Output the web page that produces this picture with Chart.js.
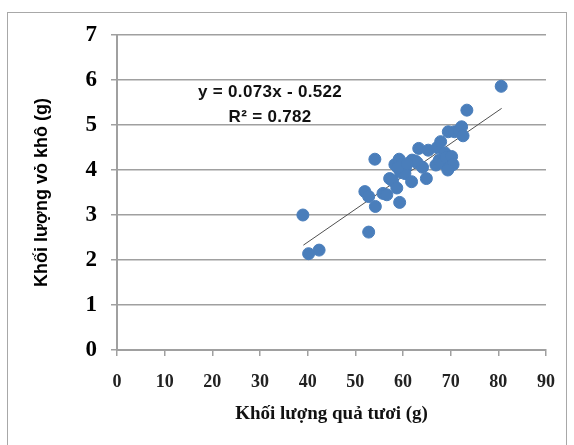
<!DOCTYPE html>
<html lang="vi">
<head>
  <meta charset="UTF-8" />
  <title>Khối lượng vỏ khô theo khối lượng quả tươi</title>
  <script src="https://cdn.jsdelivr.net/npm/chart.js"></script>
  <style>
    body {
      margin: 0;
      background: white;
    }
    .frame {
      position: absolute;
      left: 7px;
      top: 12px;
      width: 558px;
      height: 445px;
      border: 1px solid #a8a8a8;
    }
    #chart {
      position: absolute;
      left: 0;
      top: 0;
    }
  </style>
</head>
<body>
  <div class="frame"></div>
  <canvas id="chart" width="574" height="445"></canvas>

  <script>
    // fresh fruit mass (g) vs dry peel mass (g)
    const freshMass = [39.0, 40.2, 42.4, 52.8, 52.0, 52.8, 54.2, 54.1, 55.8, 56.6,
                       57.2, 57.8, 58.7, 59.3, 58.3, 59.2, 59.8, 59.5, 60.5, 60.4,
                       61.9, 61.8, 63.3, 63.0, 64.1, 64.9, 65.3, 67.2, 67.9, 66.9,
                       67.6, 68.3, 68.8, 69.1, 69.6, 70.2, 70.5, 69.4, 69.5, 70.8,
                       71.8, 72.3, 72.6, 73.4, 80.6, 62.6, 58.9, 60.9];
    const dryPeel   = [3.00, 2.14, 2.22, 2.62, 3.52, 3.41, 3.19, 4.24, 3.48, 3.45,
                       3.81, 3.76, 3.60, 3.28, 4.12, 4.24, 4.12, 3.95, 4.03, 3.92,
                       4.22, 3.74, 4.48, 4.16, 4.06, 3.81, 4.44, 4.50, 4.63, 4.11,
                       4.22, 4.15, 4.38, 4.28, 4.05, 4.30, 4.12, 4.00, 4.85, 4.85,
                       4.88, 4.96, 4.76, 5.33, 5.86, 4.20, 4.05, 4.14];

    // linear trend line ends
    const trendX = [39.1, 80.7];
    const trendY = [2.33, 5.37];

    const equationLines = ['y = 0.073x - 0.522', 'R² = 0.782'];
    const equationAt = { x: 32.1, y: [5.73, 5.18] };

    const points = freshMass.map((x, i) => ({ x, y: dryPeel[i] }));
    const trend = trendX.map((x, i) => ({ x, y: trendY[i] }));

    const equationLabel = {
      id: 'equationLabel',
      afterDatasetsDraw(chart) {
        const ctx = chart.ctx;
        const xs = chart.scales.x, ys = chart.scales.y;
        ctx.save();
        ctx.font = 'bold 17px "Liberation Sans", Arial, sans-serif';
        ctx.letterSpacing = '0.3px';
        ctx.fillStyle = '#111';
        ctx.textAlign = 'center';
        ctx.textBaseline = 'middle';
        equationLines.forEach((t, i) => {
          ctx.fillText(t, xs.getPixelForValue(equationAt.x), ys.getPixelForValue(equationAt.y[i]));
        });
        ctx.restore();
      }
    };

    new Chart(document.getElementById('chart'), {
      type: 'scatter',
      data: {
        datasets: [
          {
            data: points,
            backgroundColor: '#4a7ebb',
            borderColor: '#4a7ebb',
            pointRadius: 6,
            pointHoverRadius: 6
          },
          {
            type: 'line',
            data: trend,
            borderColor: '#505050',
            borderWidth: 1,
            pointRadius: 0,
            fill: false
          }
        ]
      },
      options: {
        responsive: false,
        devicePixelRatio: 1,
        animation: false,
        layout: { padding: { left: 0, top: 35, right: 28, bottom: 0 } },
        plugins: {
          legend: { display: false },
          tooltip: { enabled: false }
        },
        scales: {
          x: {
            type: 'linear',
            min: 0,
            max: 90,
            ticks: {
              stepSize: 10,
              padding: 16,
              color: '#222',
              font: { family: '"Liberation Serif", "Times New Roman", serif', weight: 'bold', size: 18 }
            },
            grid: { drawOnChartArea: false, color: '#a0a0a0', lineWidth: 1.5, tickLength: 6 },
            border: { color: '#a0a0a0', width: 2 },
            title: {
              display: true,
              text: 'Khối lượng quả tươi (g)',
              color: '#111',
              font: { family: '"Liberation Serif", "Times New Roman", serif', weight: 'bold', size: 19 },
              padding: { top: 0, bottom: 20 }
            },
            afterFit(s) { s.height = 95; }
          },
          y: {
            min: 0,
            max: 7,
            ticks: {
              stepSize: 1,
              padding: 14,
              color: '#000',
              font: { family: '"Liberation Serif", "Times New Roman", serif', weight: 'bold', size: 23 }
            },
            grid: { color: '#a0a0a0', lineWidth: 1.5, tickLength: 6 },
            border: { color: '#a0a0a0', width: 2 },
            title: {
              display: true,
              text: 'Khối lượng vỏ khô (g)',
              color: '#000',
              font: { family: '"Liberation Sans", Arial, sans-serif', weight: 'bold', size: 18 },
              padding: { top: 31, bottom: 0 }
            },
            afterFit(s) { s.width = 117; }
          }
        }
      },
      plugins: [equationLabel]
    });
  </script>
</body>
</html>
